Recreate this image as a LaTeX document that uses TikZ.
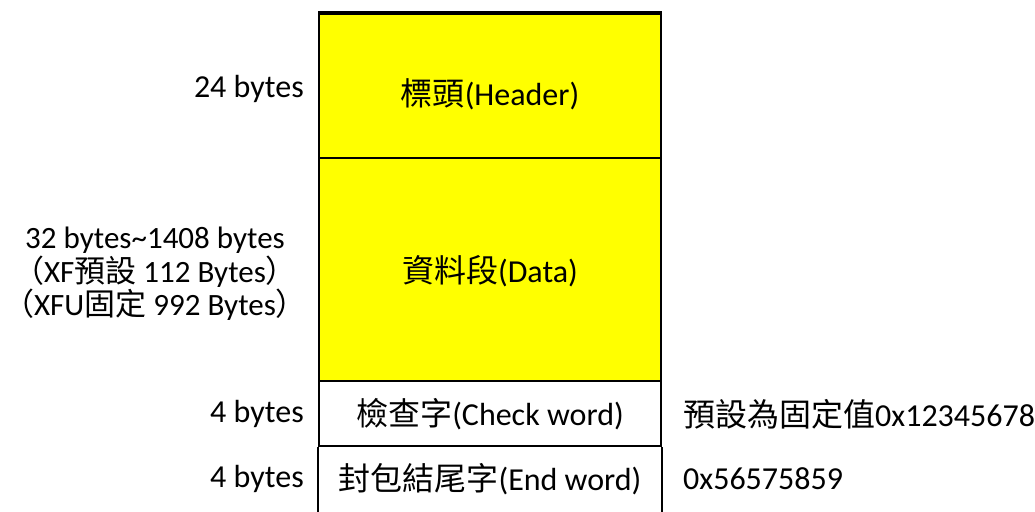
\documentclass[tikz,border=0pt]{standalone}
\usepackage{fontspec}
\setmainfont{Carlito}
\newfontfamily\cjk{Noto Sans CJK TC}
\definecolor{boxyellow}{RGB}{255,255,0}
\begin{document}
\begin{tikzpicture}[x=1pt,y=-1pt,
  lbl/.style={font=\fontsize{32}{34}\selectfont, inner sep=0pt},
  part/.style={draw=black, line width=2pt, minimum width=342pt, inner sep=0pt}]
\useasboundingbox (0,0) rectangle (1035,511);
\node[part, fill=boxyellow, minimum height=144pt] (hdr) at (490,86) {};
\node[part, fill=boxyellow, minimum height=223pt] (data) at (490,269.5) {};
\node[part, minimum height=65pt] (chk) at (490,413.5) {};
\draw[line width=2pt] (chk.south west) -- ++(0,80) coordinate (ebl);
\draw[line width=2pt] (chk.south east) -- ++(0,80) coordinate (ebr);
\draw[line width=3pt] (hdr.north west) -- (hdr.north east);
\node[lbl] (thdr) at (490,94) {{\cjk 標頭}(Header)};
\node[lbl] (tdata) at (490,271) {{\cjk 資料段}(Data)};
\node[lbl] (tchk) at (490,414) {{\cjk 檢查字}(Check word)};
\node[lbl] (tend) at (490,479) {{\cjk 封包結尾字}(End word)};
\node[lbl, anchor=east] (l1) at (304,89) {24 bytes};
\node[lbl, align=center, font=\fontsize{31}{33.5}\selectfont] (l2) at (155,274) {32 bytes\textasciitilde 1408 bytes\\{\cjk （}XF{\cjk 預設} 112 Bytes{\cjk ）}\\{\cjk （}XFU{\cjk 固定} 992 Bytes{\cjk ）}};
\node[lbl, anchor=east] (l3) at (304,414) {4 bytes};
\node[lbl, anchor=east] (l4) at (304,479) {4 bytes};
\node[lbl, anchor=west] (r1) at (683,414) {{\cjk 預設為固定值}0x12345678};
\node[lbl, anchor=west] (r2) at (683,479) {0x56575859};
\end{tikzpicture}
\end{document}
